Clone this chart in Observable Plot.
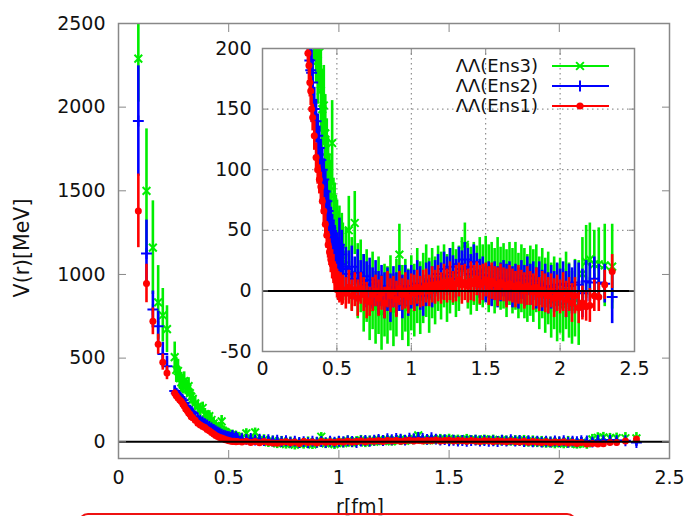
<!DOCTYPE html>
<html><head><meta charset="utf-8">
<script src="https://cdn.jsdelivr.net/npm/d3@7"></script>
<script src="https://cdn.jsdelivr.net/npm/@observablehq/plot@0.6"></script>
<style>
body{margin:0;background:#fff;}
#wrap{position:relative;width:687px;height:516px;overflow:hidden;font-family:"DejaVu Sans",sans-serif;color:#111;background:#fff;}
#wrap > *{position:absolute;}
.ylab{left:22px;top:248px;transform:translate(-50%,-50%) rotate(-90deg);font-size:20.5px;white-space:nowrap;}
.xlab{left:360px;top:506px;transform:translate(-50%,-50%);font-size:19px;white-space:nowrap;}
.slide{left:78px;top:513px;width:495px;height:30px;border:2px solid #ee1111;border-radius:10px;}
</style></head><body><div id="wrap"></div>
<script>
// r [fm]
const r = [
0.09,0.127,0.156,0.18,0.201,0.22,0.255,0.262,0.27,0.278,
0.285,0.292,0.298,0.305,0.312,0.318,0.324,0.33,0.337,0.348,
0.36,0.371,0.382,0.392,0.402,0.412,0.422,0.432,0.441,0.45,
0.459,0.468,0.477,0.485,0.493,0.501,0.509,0.517,0.525,0.533,
0.54,
0.56,0.58,0.60,0.62,0.64,0.66,0.68,0.70,0.72,0.74,
0.76,0.78,0.80,0.82,0.84,0.86,0.88,0.90,0.92,0.94,
0.96,0.98,1.00,1.02,1.04,1.06,1.08,1.10,1.12,1.14,
1.16,1.18,1.20,1.22,1.24,1.26,1.28,1.30,1.32,1.34,
1.36,1.38,1.40,1.42,1.44,1.46,1.48,1.50,1.52,1.54,
1.56,1.58,1.60,1.62,1.64,1.66,1.68,1.70,1.72,1.74,
1.76,1.78,1.80,1.82,1.84,1.86,1.88,1.90,1.92,1.94,
1.96,1.98,2.00,2.02,2.04,2.06,2.08,2.10,
2.125,2.15,2.175,2.20,2.23,2.26,2.30,2.35];

// ΛΛ(Ens1) red: V [MeV] and error
const v1 = [
1380,946,720,583,476,411,290,275,262,250,
240,226,214,196,186,172,165,150,143,128,
110,100,92,86,74,66,55,46,38,32,
26,22,18,12,10,6,4,2,3,0,
1,
-2,3,-4,1,-6,2,-3,-8,-9,-3,
0,-6,-2,-10,1,-4,-1,-7,2,-3,
0,-5,1,-2,3,-1,2,4,0,5,
3,6,2,7,4,8,3,6,9,5,
7,4,8,6,10,5,7,9,4,8,
6,3,7,5,2,6,4,1,5,3,
0,4,2,-1,3,-3,1,-2,-4,0,
-6,-2,-5,-1,-7,-3,-10,-4,
-14,-10,-13,-12,-4,-5,5,16];
const e1 = [
220,115,80,60,48,40,20,18,16,15,
15,14,13,13,12,12,12,11,11,12,
12,12,12,12,11,11,11,11,11,11,
11,12,12,12,12,12,12,12,12,12,
12,
13,14,13,14,15,13,14,15,12,14,
13,15,14,13,15,14,13,15,14,13,
15,14,13,15,14,13,15,14,13,15,
14,15,13,15,14,16,13,15,14,16,
15,14,16,15,14,16,15,14,16,15,
14,16,15,14,16,15,14,15,16,14,
15,16,14,15,16,14,15,16,15,14,
16,15,14,16,15,14,16,15,
13,14,12,14,13,12,12,14];

// ΛΛ(Ens2) blue
const v2 = [
1917,1125,791,690,524,452,304,290,280,268,
258,248,232,215,205,190,182,180,172,150,
140,128,118,108,100,92,82,74,66,58,
52,46,40,36,32,30,26,38,22,30,
20,
18,14,20,10,15,8,12,5,9,2,
6,-2,4,-4,1,-6,3,-3,2,-5,
4,-2,3,0,6,2,-4,5,8,3,
10,14,8,18,12,20,15,10,22,18,
26,20,14,24,16,10,13,6,9,4,
8,3,7,10,5,8,3,6,2,9,
4,12,5,8,2,6,0,4,-2,3,
-1,5,1,6,-3,4,0,7,
5,-2,8,7,10,7,6,-5];
const e2 = [
330,200,110,90,70,60,30,28,26,24,
24,22,22,20,20,20,20,19,19,18,
18,18,18,17,17,17,17,17,17,17,
17,17,17,18,18,18,18,22,18,20,
18,
18,19,17,18,19,17,18,19,18,17,
19,18,17,19,18,20,17,18,19,18,
17,19,18,17,19,18,17,18,16,17,
15,16,15,14,16,15,14,16,14,15,
14,15,16,14,15,16,15,16,15,17,
16,17,16,15,17,16,17,16,17,16,
17,16,17,16,17,18,17,18,17,18,
17,18,17,18,19,18,19,18,
18,20,17,16,18,15,16,22];

// ΛΛ(Ens3) green
const v3 = [
2290,1500,1160,833,756,673,506,430,423,380,
355,340,363,330,318,333,290,270,256,230,
210,190,202,165,150,153,130,110,96,82,
76,122,62,58,48,44,36,40,30,34,
26,
22,50,14,56,8,12,-2,4,-10,0,
-14,-4,-18,-8,-12,-2,-16,-6,30,-10,
-4,-14,-2,-8,4,-6,2,8,-4,6,
0,10,4,12,2,8,14,6,10,18,
38,12,8,14,10,16,12,18,10,14,
8,16,10,12,6,14,8,12,4,10,
6,2,8,4,10,-2,6,-4,2,-8,
-2,-10,-4,-12,0,-8,-14,-6,
-10,14,24,26,22,22,21,20];
const e3 = [
260,370,280,220,160,140,90,75,70,62,
60,55,55,50,50,50,45,45,42,40,
38,36,35,34,33,33,32,32,31,31,
31,35,31,31,31,31,30,30,30,30,
30,
30,28,30,26,31,30,32,30,31,32,
30,32,31,30,32,31,30,32,25,31,
30,32,31,30,31,30,29,30,31,29,
28,27,28,26,28,27,26,28,27,26,
18,27,28,26,27,28,26,27,28,26,
27,28,26,27,28,26,27,28,27,28,
29,28,29,30,28,30,29,31,30,31,
30,32,31,30,32,31,30,32,
35,30,30,30,28,30,34,35];

const seriesNames = ["ΛΛ(Ens3)", "ΛΛ(Ens2)", "ΛΛ(Ens1)"];
const seriesColors = ["#00ee00", "#0000ff", "#ff0000"];
const xTicks = [0, 0.5, 1, 1.5, 2, 2.5];
const mainYTicks = [0, 500, 1000, 1500, 2000, 2500];
const insetYTicks = [-50, 0, 50, 100, 150, 200];
const insetGridX = [0.5, 1, 1.5, 2];
const insetGridY = [50, 100, 150];

const rows = (v, e) => r.map((x, i) => ({r: x, v: v[i], lo: v[i] - e[i], hi: v[i] + e[i]}));
const series = [rows(v3, e3), rows(v2, e2), rows(v1, e1)];
const symbols = ["times", "plus", "circle"];

function seriesMarks() {
  const m = [];
  series.forEach((data, k) => {
    const c = seriesColors[k];
    m.push(Plot.ruleX(data, {x: "r", y1: "lo", y2: "hi", stroke: c, strokeWidth: 2.6, clip: true}));
    if (symbols[k] === "circle") m.push(Plot.dot(data, {x: "r", y: "v", r: 3.5, fill: c, stroke: "none", clip: true}));
    else m.push(Plot.dot(data, {x: "r", y: "v", symbol: symbols[k], r: 3.6, stroke: c, strokeWidth: 2, clip: true}));
  });
  return m;
}
const fmt = d => String(d);
const frameCol = "#888";
const baseStyle = {fontFamily: "DejaVu Sans", fontSize: "19px", color: "#111", overflow: "visible"};

const main = Plot.plot({
  width: 687, height: 516,
  marginLeft: 118, marginRight: 18, marginTop: 23, marginBottom: 58,
  x: {domain: [0, 2.5], axis: null, label: null},
  y: {domain: [-100, 2500], axis: null, label: null},
  style: {...baseStyle, background: "transparent"},
  marks: [
    ...seriesMarks(),
    Plot.ruleY([0], {stroke: "#000", strokeWidth: 2}),
    Plot.frame({stroke: frameCol, strokeWidth: 1.5}),
    Plot.axisY(mainYTicks, {anchor: "left", tickSize: 0, tickPadding: 13, tickFormat: fmt}),
    Plot.axisY(mainYTicks, {anchor: "left", tickSize: -8, tickFormat: () => "", stroke: frameCol}),
    Plot.axisY(mainYTicks, {anchor: "right", tickSize: -8, tickFormat: () => "", stroke: frameCol}),
    Plot.axisX(xTicks, {anchor: "bottom", tickSize: 0, tickPadding: 12, tickFormat: fmt}),
    Plot.axisX(xTicks, {anchor: "bottom", tickSize: -8, tickFormat: () => "", stroke: frameCol}),
    Plot.axisX(xTicks, {anchor: "top", tickSize: -8, tickFormat: () => "", stroke: frameCol})
  ]
});

const inset = Plot.plot({
  width: 432, height: 345,
  marginLeft: 50, marginRight: 10, marginTop: 10, marginBottom: 32,
  x: {domain: [0, 2.5], axis: null, label: null},
  y: {domain: [-50, 200], axis: null, label: null},
  style: {...baseStyle, background: "#fff"},
  marks: [
    Plot.gridX(insetGridX, {stroke: "#777", strokeOpacity: 1, strokeDasharray: "1.5,3.5"}),
    Plot.gridY(insetGridY, {stroke: "#777", strokeOpacity: 1, strokeDasharray: "1.5,3.5"}),
    ...seriesMarks(),
    Plot.ruleY([0], {stroke: "#000", strokeWidth: 2}),
    Plot.frame({stroke: frameCol, strokeWidth: 1.5}),
    Plot.axisY(insetYTicks, {anchor: "left", tickSize: 0, tickPadding: 11, tickFormat: fmt}),
    Plot.axisY(insetYTicks, {anchor: "left", tickSize: -6, tickFormat: () => "", stroke: frameCol}),
    Plot.axisY(insetYTicks, {anchor: "right", tickSize: -6, tickFormat: () => "", stroke: frameCol}),
    Plot.axisX(xTicks, {anchor: "bottom", tickSize: 0, tickPadding: 10, tickFormat: fmt}),
    Plot.axisX(xTicks, {anchor: "bottom", tickSize: -6, tickFormat: () => "", stroke: frameCol}),
    Plot.axisX(xTicks, {anchor: "top", tickSize: -6, tickFormat: () => "", stroke: frameCol})
  ]
});

const wrap = document.getElementById("wrap");
main.style.left = "0px"; main.style.top = "0px";
wrap.appendChild(main);
inset.style.left = "212px"; inset.style.top = "38px";
wrap.appendChild(inset);

// legend
const leg = d3.create("svg").attr("width", 687).attr("height", 516)
  .style("left", "0px").style("top", "0px").style("overflow", "visible")
  .attr("font-family", "DejaVu Sans").attr("font-size", 18);
seriesNames.forEach((name, k) => {
  const cy = 66 + 20 * k;
  leg.append("text").attr("x", 538).attr("y", cy).attr("dy", "0.36em").attr("text-anchor", "end").attr("fill", "#111").text(name);
  leg.append("line").attr("x1", 552).attr("x2", 609).attr("y1", cy).attr("y2", cy).attr("stroke", seriesColors[k]).attr("stroke-width", 2);
  const sym = symbols[k] === "times" ? d3.symbolTimes : symbols[k] === "plus" ? d3.symbolPlus : d3.symbolCircle;
  const p = leg.append("path").attr("transform", `translate(580,${cy})`).attr("d", d3.symbol(sym, 3.6 * 3.6 * Math.PI)());
  if (symbols[k] === "circle") p.attr("fill", seriesColors[k]);
  else p.attr("fill", "none").attr("stroke", seriesColors[k]).attr("stroke-width", 2);
});
wrap.appendChild(leg.node());

const yl = document.createElement("div"); yl.className = "ylab"; yl.textContent = "V(r)[MeV]"; wrap.appendChild(yl);
const xl = document.createElement("div"); xl.className = "xlab"; xl.textContent = "r[fm]"; wrap.appendChild(xl);
const sl = document.createElement("div"); sl.className = "slide"; wrap.appendChild(sl);
</script></body></html>
